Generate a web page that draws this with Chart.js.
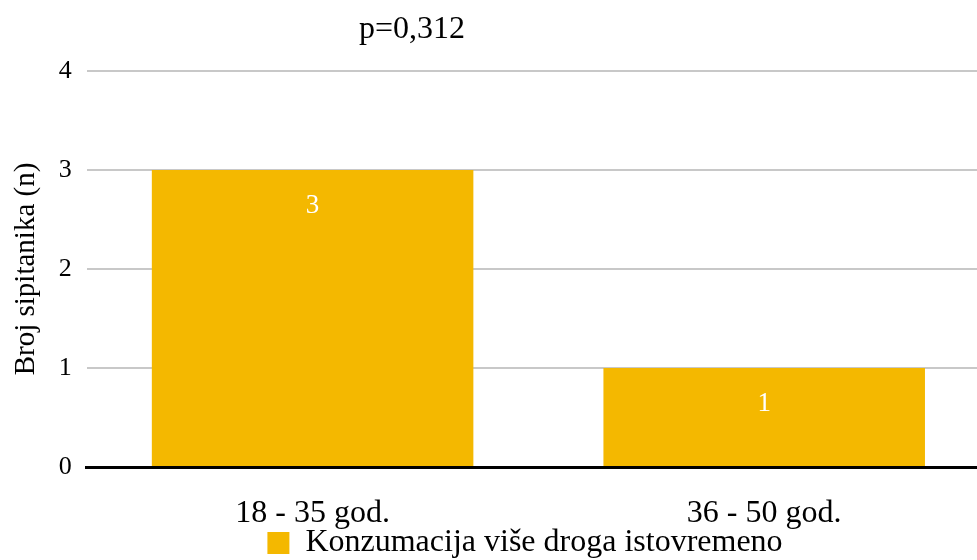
<!DOCTYPE html>
<html lang="hr">
<head>
  <meta charset="UTF-8">
  <title>Konzumacija više droga istovremeno</title>
  <script src="https://cdn.jsdelivr.net/npm/chart.js"></script>
  <style>
    html, body { margin: 0; padding: 0; background: #ffffff; overflow: hidden; }
    .wrap { width: 990px; height: 560px; position: relative; }
  </style>
</head>
<body>
  <div class="wrap">
    <canvas id="chart"></canvas>
  </div>
  <script>
    // data
    const categories = ['18 - 35 god.', '36 - 50 god.'];
    const values = [3, 1];
    const seriesName = 'Konzumacija više droga istovremeno';
    const yTicks = [0, 1, 2, 3, 4];
    const pValue = 'p=0,312';

    const serif = '"Liberation Serif", "Times New Roman", serif';
    const barColor = '#F4B800';

    // value labels inside the bars, near the top
    const barLabels = {
      id: 'barLabels',
      afterDatasetsDraw(chart) {
        const ctx = chart.ctx;
        const meta = chart.getDatasetMeta(0);
        ctx.save();
        ctx.fillStyle = '#ffffff';
        ctx.font = '27px ' + serif;
        ctx.textAlign = 'center';
        ctx.textBaseline = 'middle';
        meta.data.forEach((bar, i) => {
          ctx.fillText(String(values[i]), bar.x, bar.y + 36);
        });
        ctx.restore();
      }
    };

    // p-value caption above the plot
    const pCaption = {
      id: 'pCaption',
      afterDraw(chart) {
        const a = chart.chartArea;
        const ctx = chart.ctx;
        ctx.save();
        ctx.fillStyle = '#000000';
        ctx.font = '32px ' + serif;
        ctx.textAlign = 'center';
        ctx.textBaseline = 'middle';
        ctx.fillText(pValue, a.left + (a.right - a.left) * 0.36, 30);
        ctx.restore();
      }
    };

    // legend sits tight under the category labels, so let the boxes overlap a bit
    const tightBottom = {
      id: 'tightBottom',
      afterLayout(chart) {
        if (chart.legend) {
          chart.legend.top += 9;
          chart.legend.bottom += 9;
          chart.legend.left += 30;
          chart.legend.right += 30;
        }
        const x = chart.scales.x;
        x.bottom = x.top + 75;
      }
    };

    new Chart(document.getElementById('chart'), {
      type: 'bar',
      data: {
        labels: categories,
        datasets: [{
          label: seriesName,
          data: values,
          backgroundColor: barColor,
          borderWidth: 0,
          barPercentage: 0.712,
          categoryPercentage: 1
        }]
      },
      options: {
        responsive: true,
        maintainAspectRatio: false,
        animation: false,
        layout: { padding: { top: 71, right: 0, left: 0, bottom: 0 } },
        plugins: {
          title: { display: false },
          tooltip: { enabled: false },
          legend: {
            position: 'bottom',
            labels: {
              color: '#000000',
              font: { family: serif, size: 32 },
              boxWidth: 22,
              boxHeight: 22,
              padding: 0
            }
          }
        },
        scales: {
          x: {
            grid: { display: false },
            border: { display: true, color: '#000000', width: 3 },
            ticks: {
              color: '#000000',
              font: { family: serif, size: 32 },
              padding: 19
            },
            afterFit(scale) {
              scale.height = 51;
            }
          },
          y: {
            min: 0,
            max: 4,
            afterBuildTicks(axis) {
              axis.ticks = yTicks.map(v => ({ value: v }));
            },
            border: { display: false },
            grid: {
              color: '#c8c8c8',
              lineWidth: 2,
              drawTicks: false
            },
            ticks: {
              color: '#000000',
              font: { family: serif, size: 26 },
              padding: 15
            },
            title: {
              display: true,
              text: 'Broj sipitanika (n)',
              color: '#000000',
              font: { family: serif, size: 29 },
              padding: { top: 9, bottom: 0 }
            }
          }
        }
      },
      plugins: [barLabels, pCaption, tightBottom]
    });
  </script>
</body>
</html>
